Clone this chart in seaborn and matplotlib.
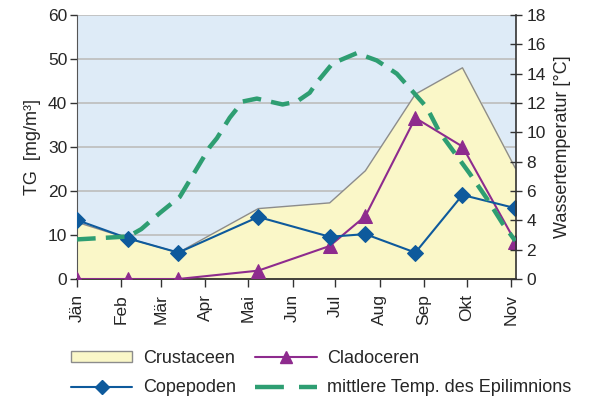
import numpy as np
import pandas as pd
import seaborn as sns
import matplotlib.pyplot as plt
from matplotlib.patches import Patch
from matplotlib.lines import Line2D

# Month ticks (day of year of the 1st of each month)
month_labels = ["Jän", "Feb", "Mär", "Apr", "Mai", "Jun", "Jul", "Aug", "Sep", "Okt", "Nov"]
month_days = [0, 31, 59, 90, 120, 151, 181, 212, 243, 273, 304]

# Sampling dates (day of year) and biomass values [mg/m³]
sample_days = [0, 36, 71, 127, 177, 202, 237, 270, 307]
crustaceen = [12.9, 9.2, 6.0, 16.0, 17.3, 24.6, 42.0, 48.0, 25.2]
copepoden = [13.4, 9.2, 6.0, 14.1, 9.6, 10.2, 6.0, 19.1, 16.1]
cladoceren = [0.0, 0.0, 0.0, 1.9, 7.5, 14.3, 36.6, 30.1, 8.5]

# Mean epilimnion temperature [°C]
temp_days = [0, 36, 45, 58, 72, 93, 98, 107, 116, 126, 135, 144, 154, 163, 168,
             179, 196, 210, 224, 235, 245, 254, 275, 287, 298, 307]
temp = [2.7, 2.9, 3.4, 4.5, 5.6, 9.0, 9.6, 11.0, 12.1, 12.3, 12.1, 11.9, 12.1, 12.7, 13.4,
        14.7, 15.4, 14.9, 14.0, 12.8, 11.7, 10.0, 7.2, 5.5, 3.8, 2.6]

sns.set_style("ticks")
plt.rcParams["font.family"] = ["Liberation Sans", "DejaVu Sans"]
plt.rcParams["font.size"] = 12.5

bio = pd.DataFrame({"day": sample_days, "Crustaceen": crustaceen,
                    "Copepoden": copepoden, "Cladoceren": cladoceren})
tdf = pd.DataFrame({"day": temp_days, "temp": temp})

c_fill = "#faf7c8"
c_edge = "#8c8c8c"
c_cope = "#0e5a9c"
c_clad = "#8e2b8e"
c_temp = "#2e9e72"
c_bg = "#deebf7"

fig = plt.figure(figsize=(5.9, 4.01), dpi=100)
ax = fig.add_axes([77 / 590, 1 - 279 / 401, (516 - 77) / 590, (279 - 15) / 401])
ax.set_facecolor(c_bg)

ax.fill_between(bio["day"], 0, bio["Crustaceen"], color=c_fill, zorder=2)
ax.plot(bio["day"], bio["Crustaceen"], color=c_edge, lw=1.0, zorder=2.1)

sns.lineplot(data=bio, x="day", y="Cladoceren", ax=ax, color=c_clad, lw=1.5,
             marker="^", markersize=10, markeredgecolor=c_clad, zorder=3)
sns.lineplot(data=bio, x="day", y="Copepoden", ax=ax, color=c_cope, lw=1.5,
             marker="D", markersize=8, markeredgecolor=c_cope, zorder=4)

ax.set_xlim(0, 307.5)
ax.set_ylim(0, 60)
ax.set_yticks(range(0, 61, 10))
ax.set_xticks(month_days)
ax.set_xticklabels(month_labels, rotation=90)
ax.yaxis.grid(True, color="#c0c0c0", lw=1.3)
ax.set_axisbelow(True)
ax.set_xlabel("")
ax.set_ylabel("TG  [mg/m³]", fontsize=13, labelpad=5)
ax.tick_params(axis="y", length=5, width=1, color="#333333", pad=2)
ax.tick_params(axis="x", length=6, width=1, color="#333333", pad=5)
for s in ["top", "right"]:
    ax.spines[s].set_visible(False)
ax.spines["left"].set_color("#555555")
ax.spines["bottom"].set_color("#222222")
ax.spines["bottom"].set_linewidth(1.2)

ax2 = ax.twinx()
sns.lineplot(data=tdf, x="day", y="temp", ax=ax2, color=c_temp, lw=3.2,
             linestyle=(0, (4.2, 2.3)), zorder=5)
ax2.set_ylim(0, 18)
ax2.set_yticks(range(0, 19, 2))
ax2.set_xlim(0, 307.5)
ax2.set_ylabel("Wassertemperatur [°C]", fontsize=13, labelpad=6)
ax2.tick_params(axis="y", direction="inout", length=9, width=1, color="#333333", pad=3)
for s in ["top", "left", "bottom"]:
    ax2.spines[s].set_visible(False)
ax2.spines["right"].set_color("#333333")
ax2.spines["right"].set_linewidth(1.2)

handles = [
    Patch(facecolor=c_fill, edgecolor=c_edge, lw=1.0),
    Line2D([], [], color=c_cope, lw=1.5, marker="D", markersize=7),
    Line2D([], [], color=c_clad, lw=1.5, marker="^", markersize=8),
    Line2D([], [], color=c_temp, lw=3.2, linestyle=(0, (6.5, 3.4))),
]
labels = ["Crustaceen", "Copepoden", "Cladoceren", "mittlere Temp. des Epilimnions"]
fig.legend(handles, labels, ncol=2, loc="upper left", bbox_to_anchor=(62 / 590, 1 - 341 / 401),
           frameon=False, borderpad=0, handlelength=3.4, handleheight=0.55, handletextpad=0.6,
           columnspacing=1.05, labelspacing=0.69, fontsize=13)

fig.savefig("out.png", dpi=100)
